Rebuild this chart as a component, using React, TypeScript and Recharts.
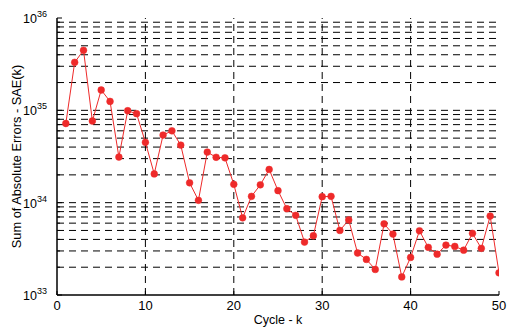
import React from 'react';
import { LineChart, Line, XAxis, YAxis, ReferenceLine, Label } from 'recharts';

const cycles = [1,2,3,4,5,6,7,8,9,10,11,12,13,14,15,16,17,18,19,20,21,22,23,24,25,26,27,28,29,30,31,32,33,34,35,36,37,38,39,40,41,42,43,44,45,46,47,48,49,50];
const sae = [
  7.2e34, 3.31e35, 4.47e35, 7.66e34, 1.66e35, 1.25e35, 3.12e34, 9.9e34, 9.2e34, 4.5e34,
  2.05e34, 5.4e34, 6.0e34, 4.2e34, 1.64e34, 1.06e34, 3.53e34, 3.1e34, 3.06e34, 1.58e34,
  6.85e33, 1.17e34, 1.56e34, 2.29e34, 1.35e34, 8.6e33, 7.3e33, 3.74e33, 4.38e33, 1.16e34,
  1.17e34, 5.0e33, 6.5e33, 2.85e33, 2.43e33, 1.89e33, 5.9e33, 4.57e33, 1.57e33, 2.55e33,
  4.96e33, 3.28e33, 2.77e33, 3.47e33, 3.36e33, 3.06e33, 4.65e33, 3.2e33, 7.16e33, 1.74e33,
];
const xTicks = [0, 10, 20, 30, 40, 50];
const xGrid = [10, 20, 30, 40];
const decades = [33, 34, 35, 36];
const mantissas = [1, 2, 3, 4, 5, 6, 7, 8, 9];

const yTicks: number[] = [];
decades.forEach((d) => {
  if (d === 36) { yTicks.push(Math.pow(10, 36)); return; }
  mantissas.forEach((m) => yTicks.push(m * Math.pow(10, d)));
});
const yGrid = yTicks.filter((v) => v > 1e33 && v < 1e36);

const data = cycles.map((k, i) => ({ k, sae: sae[i] }));

const FONT = '"Liberation Sans", Arial, sans-serif';
const RED = '#ee2a2a';

const isDecade = (v: number) => {
  const l = Math.log10(v);
  return Math.abs(l - Math.round(l)) < 1e-9;
};

const LeftTick = (props: any) => {
  const { x, y, payload } = props;
  const v = payload.value as number;
  const dec = isDecade(v);
  const exp = Math.round(Math.log10(v));
  return (
    <g>
      <line x1={x} x2={x + (dec ? 5 : 3)} y1={y} y2={y} stroke="#000" strokeWidth={1} />
      {dec && (
        <text x={x - 10} y={y + 5} textAnchor="end" fontFamily={FONT} fontSize={12.5} fill="#000">
          <tspan>10</tspan>
          <tspan dy={-6} fontSize={9}>{exp}</tspan>
        </text>
      )}
    </g>
  );
};

const RightTick = (props: any) => {
  const { x, y, payload } = props;
  const dec = isDecade(payload.value);
  return <line x1={x - (dec ? 5 : 3)} x2={x} y1={y} y2={y} stroke="#000" strokeWidth={1} />;
};

const BottomTick = (props: any) => {
  const { x, y, payload } = props;
  return (
    <g>
      <line x1={x} x2={x} y1={y} y2={y - 4} stroke="#000" strokeWidth={1} />
      <text x={x} y={y + 15} textAnchor="middle" fontFamily={FONT} fontSize={13} fill="#000">
        {payload.value}
      </text>
    </g>
  );
};

const TopTick = (props: any) => {
  const { x, y } = props;
  return <line x1={x} x2={x} y1={y} y2={y + 4} stroke="#000" strokeWidth={1} />;
};

export default function App() {
  return (
    <div style={{ position: 'absolute', left: 0, top: 0, width: 508, height: 328, background: '#fff' }}>
      <LineChart
        width={508}
        height={328}
        data={data}
        margin={{ top: 18, right: 9, bottom: 0, left: 0 }}
      >
        <XAxis
          xAxisId="b"
          dataKey="k"
          type="number"
          domain={[0, 50]}
          ticks={xTicks}
          interval={0}
          height={33}
          tickSize={0}
          tickMargin={0}
          tickLine={false}
          axisLine={{ stroke: '#000', strokeWidth: 1.5 }}
          tick={<BottomTick />}
          allowDataOverflow
        >
          <Label
            content={(p: any) => {
              const vb = p.viewBox;
              return (
                <text x={vb.x + vb.width / 2} y={vb.y + 29} textAnchor="middle" fontFamily={FONT} fontSize={12.5} fill="#000">
                  Cycle - k
                </text>
              );
            }}
          />
        </XAxis>
        <XAxis
          xAxisId="t"
          orientation="top"
          dataKey="k"
          type="number"
          domain={[0, 50]}
          ticks={xTicks}
          interval={0}
          height={0}
          tickSize={0}
          tickMargin={0}
          tickLine={false}
          axisLine={{ stroke: '#000', strokeWidth: 1.5 }}
          tick={<TopTick />}
          allowDataOverflow
        />
        <YAxis
          yAxisId="l"
          scale="log"
          domain={[1e33, 1e36]}
          ticks={yTicks}
          interval={0}
          width={57}
          tickSize={0}
          tickMargin={0}
          tickLine={false}
          axisLine={{ stroke: '#000', strokeWidth: 1.5 }}
          tick={<LeftTick />}
          allowDataOverflow
        >
          <Label
            content={(p: any) => {
              const vb = p.viewBox;
              const cy = vb.y + vb.height / 2;
              return (
                <text x={21} y={cy} transform={`rotate(-90, 21, ${cy})`} textAnchor="middle" fontFamily={FONT} fontSize={12.8} fill="#000">
                  Sum of Absolute Errors - SAE(k)
                </text>
              );
            }}
          />
        </YAxis>
        <YAxis
          yAxisId="r"
          orientation="right"
          scale="log"
          domain={[1e33, 1e36]}
          ticks={yTicks}
          interval={0}
          width={0}
          tickSize={0}
          tickMargin={0}
          tickLine={false}
          axisLine={{ stroke: '#000', strokeWidth: 1.5 }}
          tick={<RightTick />}
          allowDataOverflow
        />
        {yGrid.map((v) => (
          <ReferenceLine key={'h' + v} xAxisId="b" yAxisId="l" y={v} stroke="#000" strokeWidth={1} strokeDasharray="7 5" />
        ))}
        {xGrid.map((v) => (
          <ReferenceLine key={'v' + v} xAxisId="b" yAxisId="l" x={v} stroke="#000" strokeWidth={1} strokeDasharray="7 5" />
        ))}
        <Line
          xAxisId="b"
          yAxisId="l"
          type="linear"
          dataKey="sae"
          stroke={RED}
          strokeWidth={1}
          dot={{ r: 3.4, fill: RED, stroke: RED, strokeWidth: 0.5 }}
          isAnimationActive={false}
        />
      </LineChart>
    </div>
  );
}
